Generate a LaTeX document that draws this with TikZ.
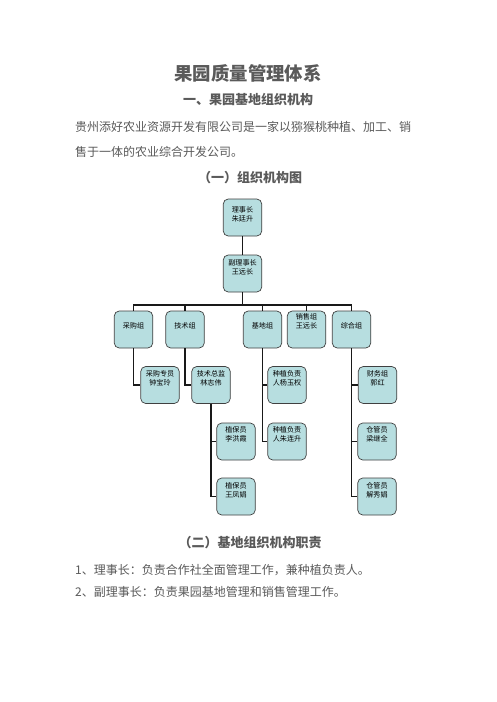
\documentclass[tikz,border=0pt]{standalone}
\usepackage{fontspec}
\setmainfont{Noto Sans CJK SC}
\definecolor{boxfill}{HTML}{B7DEE0}
\definecolor{txtgrey}{HTML}{5A5A5A}
\begin{document}
\begin{tikzpicture}[x=1pt,y=-1pt,
  box/.style={draw=black!75, line width=0.7pt, fill=boxfill, rounded corners=5pt, minimum width=38.5pt, minimum height=37pt, inner sep=0pt},
  btxt/.style={font=\fontsize{7.1}{9.2}\selectfont, text=black, align=center, inner sep=0pt},
  link/.style={line width=1.3pt, draw=black!90},
  heading/.style={font=\bfseries\fontsize{13}{15}\selectfont, text=txtgrey, inner sep=0pt},
  body/.style={font=\fontsize{12}{14}\selectfont, text=txtgrey, inner sep=0pt, anchor=west}]
\useasboundingbox[fill=white] (0,0) rectangle (496,702);

% texts
\node[font=\bfseries\fontsize{18.4}{20}\selectfont, text=txtgrey, inner sep=0pt] (title) at (248,73) {果园质量管理体系};
\node[heading] (sec1) at (248,100) {一、果园基地组织机构};
\node[body] (p1) at (75,127) {贵州添好农业资源开发有限公司是一家以猕猴桃种植、加工、销};
\node[body] (p2) at (75,152) {售于一体的农业综合开发公司。};
\node[heading] (sub1) at (250,178) {（一）组织机构图};
\node[heading] (sub2) at (250,543) {（二）基地组织机构职责};
\node[body] (l1) at (75,570) {1、理事长：负责合作社全面管理工作，兼种植负责人。};
\node[body] (l2) at (75,592) {2、副理事长：负责果园基地管理和销售管理工作。};

% boxes
\node[box] (ls) at (242.5,217.5) {};
\node[btxt] (lsT) at (242.5,214) {理事长\\朱廷升};
\node[box] (fls) at (242.5,273.5) {};
\node[btxt] (flsT) at (242.5,267.5) {副理事长\\王远长};

\node[box] (cg) at (133.5,329.5) {};
\node[btxt] (cgT) at (133.5,326) {采购组};
\node[box] (js) at (185,329.5) {};
\node[btxt] (jsT) at (185,326) {技术组};
\node[box] (jd) at (262.5,329.5) {};
\node[btxt] (jdT) at (262.5,326) {基地组};
\node[box] (xs) at (306.5,329.5) {};
\node[btxt] (xsT) at (306.5,321) {销售组\\王远长};
\node[box] (zh) at (351.5,329.5) {};
\node[btxt] (zhT) at (351.5,326) {综合组};

\node[box] (cgzy) at (160,385) {};
\node[btxt] (cgzyT) at (160,378.5) {采购专员\\钟宝玲};
\node[box] (jszj) at (211,385) {};
\node[btxt] (jszjT) at (211,378.5) {技术总监\\林志伟};
\node[box] (zz1) at (287,385) {};
\node[btxt] (zz1T) at (287,378.5) {种植负责\\人杨玉权};
\node[box] (cw) at (377.5,385) {};
\node[btxt] (cwT) at (377.5,378.5) {财务组\\郭红};

\node[box] (zb1) at (236,441.5) {};
\node[btxt] (zb1T) at (236,434.5) {植保员\\李洪霞};
\node[box] (zz2) at (287,441.5) {};
\node[btxt] (zz2T) at (287,434.5) {种植负责\\人朱连升};
\node[box] (cg1) at (377,441.5) {};
\node[btxt] (cg1T) at (377,434) {仓管员\\梁继全};

\node[box] (zb2) at (236,496.5) {};
\node[btxt] (zb2T) at (236,490) {植保员\\王凤娟};
\node[box] (cg2) at (377,496.5) {};
\node[btxt] (cg2T) at (377,490) {仓管员\\解秀娟};

% connectors
\coordinate (bar) at (242.5,305);
\draw[link] (ls.south) -- (fls.north);
\foreach \c in {cg,js,jd,xs,zh}
  \draw[link] (fls.south) |- (bar -| \c.north) -- (\c.north);
\draw[link] (cg.south) |- (cgzy.west);
\draw[link] (js.south) |- (jszj.west);
\draw[link] (jd.south) |- (zz1.west);
\draw[link] (jd.south) |- (zz2.west);
\draw[link] (zh.south) |- (cw.west);
\draw[link] (zh.south) |- (cg1.west);
\draw[link] (zh.south) |- (cg2.west);
\draw[link] (jszj.south) |- (zb1.west);
\draw[link] (jszj.south) |- (zb2.west);
\end{tikzpicture}
\end{document}
